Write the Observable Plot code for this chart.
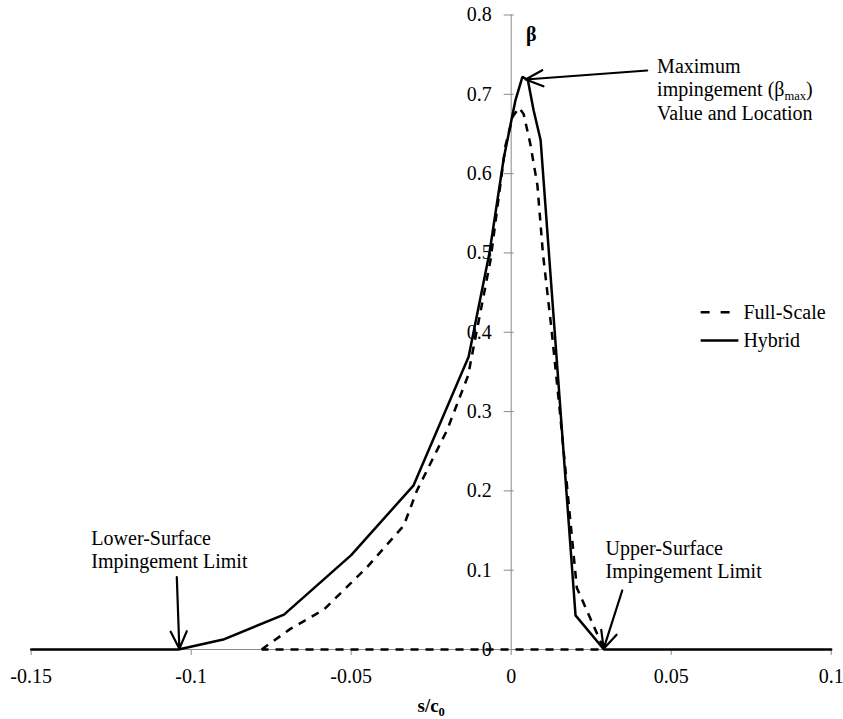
<!DOCTYPE html>
<html>
<head>
<meta charset="utf-8">
<script src="https://cdn.jsdelivr.net/npm/d3@7"></script>
<script src="https://cdn.jsdelivr.net/npm/@observablehq/plot@0.6"></script>
<style>
  html, body { margin: 0; padding: 0; background: #fff; }
  #chart { width: 843px; height: 719px; }
</style>
</head>
<body>
<div id="chart"></div>
<script>
// Local collection efficiency β against surface distance s/c0.

// Hybrid model (solid line)
const hybridS = [-0.15, -0.104, -0.09, -0.071, -0.05, -0.0305, -0.0133, -0.0068, -0.0023, 0.0013, 0.0035, 0.0052, 0.007, 0.0092, 0.0201, 0.029, 0.1];
const hybridBeta = [0, 0, 0.0125, 0.044, 0.119, 0.207, 0.369, 0.5, 0.62, 0.692, 0.722, 0.718, 0.68, 0.642, 0.043, 0, 0];

// Full-scale model (dashed line); the series closes back along β = 0
const fullScaleS = [-0.078, -0.069, -0.0586, -0.045, -0.0336, -0.0295, -0.02, -0.0135, -0.0065, -0.0018, 0.0005, 0.0025, 0.0039, 0.006, 0.0082, 0.0099, 0.0127, 0.0152, 0.0205, 0.029, -0.078];
const fullScaleBeta = [0, 0.026, 0.05, 0.104, 0.156, 0.2, 0.277, 0.345, 0.49, 0.635, 0.672, 0.683, 0.675, 0.637, 0.585, 0.5, 0.4, 0.3, 0.078, 0, 0];

// Axis ticks
const xTicks = [-0.15, -0.1, -0.05, 0, 0.05, 0.1];
const yTicks = [0, 0.1, 0.2, 0.3, 0.4, 0.5, 0.6, 0.7, 0.8];
const xDomain = [-0.15, 0.1];
const yDomain = [0, 0.8];

// Annotation callouts (arrow from label toward the curve feature)
const calloutText = [
  "Maximum\nimpingement (β_max)\nValue and Location",
  "Lower-Surface\nImpingement Limit",
  "Upper-Surface\nImpingement Limit"
];
const calloutTextS = [0.0456, -0.1312, 0.0295];
const calloutTextBeta = [0.748, 0.1532, 0.1406];
const arrowFromS = [0.0425, -0.1045, 0.0347];
const arrowFromBeta = [0.730, 0.0912, 0.0744];
const arrowToS = [0.0045, -0.1037, 0.0289];
const arrowToBeta = [0.7187, 0.001, 0.001];

// Legend
const seriesNames = ["Full-Scale", "Hybrid"];
const legendDash = "9,11";

const yTitle = "β";
const xTitle = "s/c_0";

// ---- layout ----
const W = 843, H = 719;
const mTop = 14.5, mRight = 12.3, mBottom = 70, mLeft = 30.7;
const frameW = W - mLeft - mRight;
const axisPx = d3.scaleLinear(xDomain, [0, frameW])(0); // where the β axis crosses
const gray = "#8a8a8a";
const fmt = d => (d === 0 ? "0" : String(+d.toFixed(2)));

const hybrid = hybridS.map((s, i) => ({s, beta: hybridBeta[i]}));
const fullScale = fullScaleS.map((s, i) => ({s, beta: fullScaleBeta[i]}));
const callouts = calloutText.map((text, i) => ({
  text, s: calloutTextS[i], beta: calloutTextBeta[i],
  s1: arrowFromS[i], b1: arrowFromBeta[i], s2: arrowToS[i], b2: arrowToBeta[i]
}));

// legend placed in data space, right of the peak
const legendS = [0.0592, 0.071];
const legendBeta = [0.4253, 0.3896];
const legend = seriesNames.map((name, i) => ({name, s1: legendS[0], s2: legendS[1], beta: legendBeta[i]}));

const plot = Plot.plot({
  width: W,
  height: H,
  marginTop: mTop,
  marginRight: mRight,
  marginBottom: mBottom,
  marginLeft: mLeft,
  x: {domain: xDomain},
  y: {domain: yDomain, axis: null},
  style: {fontFamily: "'Liberation Serif', 'Times New Roman', serif", fontSize: "20px", background: "#fff", color: "#000"},
  marks: [
    // horizontal axis
    Plot.ruleY([0], {stroke: gray, strokeWidth: 1}),
    Plot.axisX(xTicks, {tickSize: 6, tickPadding: 13, stroke: gray, fill: "#000", tickFormat: fmt, fontSize: 20, label: null}),
    // vertical β axis at s/c0 = 0
    Plot.ruleX([0], {y1: yDomain[0], y2: yDomain[1], stroke: gray, strokeWidth: 1}),
    Plot.tickY(yTicks, {y: d => d, insetLeft: axisPx - 7, insetRight: frameW - axisPx - 3, stroke: gray, strokeWidth: 1}),
    Plot.text(yTicks, {x: 0, y: d => d, text: fmt, textAnchor: "end", dx: -19.5, fontSize: 20, fill: "#000"}),
    Plot.text([yTitle], {x: 0.0063, y: 0.7747, text: d => d, fontWeight: "bold", fontSize: 20, fill: "#000"}),
    Plot.text([xTitle], {frameAnchor: "bottom", dy: 62, text: d => d, fontWeight: "bold", fontSize: 19, fill: "#000"}),

    // series
    Plot.line(fullScale, {x: "s", y: "beta", stroke: "#000", strokeWidth: 2.5, strokeDasharray: "8,7", strokeLinejoin: "miter", strokeLinecap: "butt"}),
    Plot.line(hybrid, {x: "s", y: "beta", stroke: "#000", strokeWidth: 2.5, strokeLinejoin: "miter"}),

    // callouts
    Plot.arrow(callouts, {x1: "s1", y1: "b1", x2: "s2", y2: "b2", stroke: "#000", strokeWidth: 2.2, headLength: 13, headAngle: 50}),
    Plot.text(callouts, {x: "s", y: "beta", text: "text", textAnchor: "start", lineAnchor: "top", lineHeight: 1.17, fontSize: 20, fill: "#000"}),

    // legend
    Plot.link(legend.slice(0, 1), {x1: "s1", x2: "s2", y1: "beta", y2: "beta", stroke: "#000", strokeWidth: 2.5, strokeDasharray: legendDash, strokeLinecap: "butt"}),
    Plot.link(legend.slice(1), {x1: "s1", x2: "s2", y1: "beta", y2: "beta", stroke: "#000", strokeWidth: 2.5}),
    Plot.text(legend, {x: "s2", y: "beta", text: "name", textAnchor: "start", dx: 5, fontSize: 20, fill: "#000"})
  ]
});

// Turn "_xyz" into a subscript: runs to the next ")" or end of line.
function applySubscripts(svg) {
  const ns = "http://www.w3.org/2000/svg";
  svg.querySelectorAll("text, tspan").forEach(node => {
    if (node.children.length) return;
    const s = node.textContent;
    const i = s.indexOf("_");
    if (i < 0) return;
    let j = s.indexOf(")", i);
    if (j < 0) j = s.length;
    const before = s.slice(0, i), sub = s.slice(i + 1, j), after = s.slice(j);
    node.textContent = "";
    node.append(before);
    const t = document.createElementNS(ns, "tspan");
    t.setAttribute("font-size", "12.5");
    t.setAttribute("dy", "4");
    t.textContent = sub;
    node.append(t);
    if (after) {
      const a = document.createElementNS(ns, "tspan");
      a.setAttribute("dy", "-4");
      a.textContent = after;
      node.append(a);
    }
  });
}
applySubscripts(plot);

document.getElementById("chart").append(plot);
</script>
</body>
</html>
